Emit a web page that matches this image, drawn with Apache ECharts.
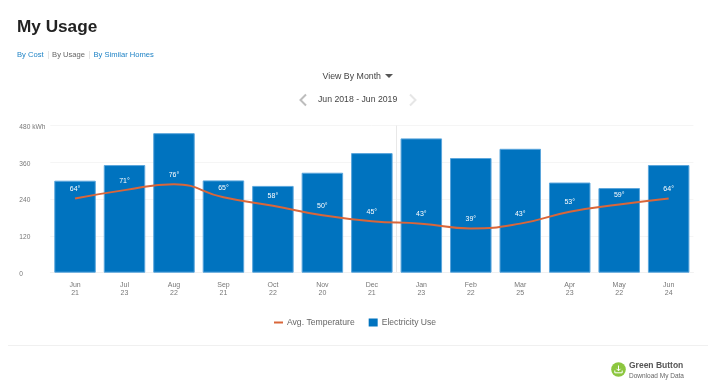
<!DOCTYPE html>
<html>
<head>
<meta charset="utf-8">
<title>My Usage</title>
<script src="https://cdn.jsdelivr.net/npm/echarts@6/dist/echarts.min.js"></script>
<style>
  html, body { margin: 0; padding: 0; background: #fff; }
  body { width: 720px; height: 391px; position: relative; overflow: hidden; font-family: "Liberation Sans", Arial, sans-serif; }
  #chart { position: absolute; left: 0; top: 0; width: 720px; height: 391px; }
  .abs { position: absolute; white-space: nowrap; line-height: 1; }
  .title { left: 17px; top: 17.5px; font-size: 17.2px; font-weight: bold; color: #222; }
  .tabs { left: 17px; top: 51px; font-size: 7.6px; color: #666; }
  .tabs span { display: inline-block; padding-right: 4px; margin-right: 3.5px; border-right: 1px solid #e4e4e4; }
  .tabs span:last-child { border: 0; }
  .tabs .link { color: #1f83c6; }
  .view { left: 322.5px; top: 71.5px; font-size: 8.8px; color: #444; }
  .caret { left: 385px; top: 74px; width: 0; height: 0; border-left: 4px solid transparent; border-right: 4px solid transparent; border-top: 4px solid #555; }
  .range { left: 318px; top: 95px; font-size: 8.7px; color: #444; }
  .rule { left: 8px; top: 345px; width: 700px; height: 1px; background: #f0f0f0; }
  .gb1 { left: 629px; top: 361px; font-size: 8.5px; font-weight: bold; color: #555; }
  .gb2 { left: 629px; top: 372.5px; font-size: 6.5px; color: #666; }
</style>
</head>
<body>
<div id="chart"></div>
<div class="abs title">My Usage</div>
<div class="abs tabs"><span class="link">By Cost</span><span>By Usage</span><span class="link">By Similar Homes</span></div>
<div class="abs view">View By Month</div>
<div class="abs caret"></div>
<svg class="abs" style="left:298px;top:93px" width="10" height="14"><path d="M8 1.5 L2.5 7 L8 12.5" fill="none" stroke="#bdbdbd" stroke-width="2"/></svg>
<div class="abs range">Jun 2018 - Jun 2019</div>
<svg class="abs" style="left:408px;top:93px" width="10" height="14"><path d="M2 1.5 L7.5 7 L2 12.5" fill="none" stroke="#e6e6e6" stroke-width="2"/></svg>
<div class="abs rule"></div>
<svg class="abs" style="left:611px;top:362px" width="15" height="15">
  <circle cx="7.5" cy="7.5" r="7.3" fill="#8cc63f"/>
  <path d="M7.5 3.5 V8.5 M5.5 6.8 L7.5 8.8 L9.5 6.8 M3.8 8.5 V10.8 H11.2 V8.5" fill="none" stroke="#fff" stroke-width="1"/>
</svg>
<div class="abs gb1">Green Button</div>
<div class="abs gb2">Download My Data</div>

<script>
var months = ['Jun', 'Jul', 'Aug', 'Sep', 'Oct', 'Nov', 'Dec', 'Jan', 'Feb', 'Mar', 'Apr', 'May', 'Jun'];
var days = ['21', '23', '22', '21', '22', '20', '21', '23', '22', '25', '23', '22', '24'];
var usage = [300, 351, 455, 301, 283, 326, 390, 438, 374, 404, 294, 276, 351];
var temps = [64, 71, 76, 65, 58, 50, 45, 43, 39, 43, 53, 59, 64];
var usageTicks = [0, 120, 240, 360, 480];

var categories = months.map(function (m, i) { return m + '\n' + days[i]; });

var chart = echarts.init(document.getElementById('chart'), null, { renderer: 'canvas' });
chart.setOption({
  animation: false,
  textStyle: { fontFamily: '"Liberation Sans", Arial, sans-serif' },
  legend: {
    top: 313,
    left: 269,
    itemGap: 14,
    itemHeight: 8,
    itemWidth: 9,
    textStyle: { color: '#666', fontSize: 8.6, padding: [0, 0, 0, -1] },
    data: [
      { name: 'Avg. Temperature', icon: 'path://M0 3.5H9V5.5H0Z', itemStyle: { color: '#d9663a', borderWidth: 0 } },
      { name: 'Electricity Use', icon: 'rect', itemStyle: { color: '#0073bf', borderWidth: 0 } }
    ]
  },
  grid: { left: 50.3, right: 26.6, top: 125.5, height: 147.2 },
  xAxis: {
    type: 'category',
    data: categories,
    axisTick: { show: false },
    axisLine: { lineStyle: { color: '#f1f1f1' } },
    axisLabel: { color: '#777', fontSize: 7, lineHeight: 8, margin: 8, interval: 0 },
    splitLine: {
      show: true,
      showMinLine: false,
      showMaxLine: false,
      // year boundary between Dec and Jan, 0 is only there so the band shift works
      interval: function (i) { return i === 0 || i === 7; },
      lineStyle: { color: '#e8e8e8' }
    }
  },
  yAxis: [
    {
      type: 'value',
      min: usageTicks[0],
      max: usageTicks[4],
      interval: 120,
      axisLine: { show: false },
      axisTick: { show: false },
      axisLabel: {
        color: '#777',
        fontSize: 6.6,
        align: 'left',
        margin: 31,
        // labels sit a bit under their gridline
        verticalAlign: 'top',
        lineHeight: 3,
        formatter: function (v) { return v === 480 ? v + ' kWh' : v; }
      },
      splitLine: { lineStyle: { color: '#f5f5f5' } }
    },
    { type: 'value', min: 2, max: 125, show: false, splitLine: { show: false } }
  ],
  series: [
    {
      name: 'Electricity Use',
      type: 'bar',
      data: usage,
      barWidth: 41.5,
      itemStyle: { color: '#0073bf', borderColor: '#5ba6dc', borderWidth: 1 }
    },
    {
      name: 'Avg. Temperature',
      type: 'line',
      yAxisIndex: 1,
      data: temps,
      smooth: 0.5,
      symbol: 'circle',
      symbolSize: 0,
      lineStyle: { color: '#d9663a', width: 2 },
      itemStyle: { color: '#d9663a' },
      label: {
        show: true,
        position: 'top',
        distance: 6,
        color: '#fff',
        fontSize: 7,
        formatter: '{c}°'
      }
    }
  ]
});
</script>
</body>
</html>
